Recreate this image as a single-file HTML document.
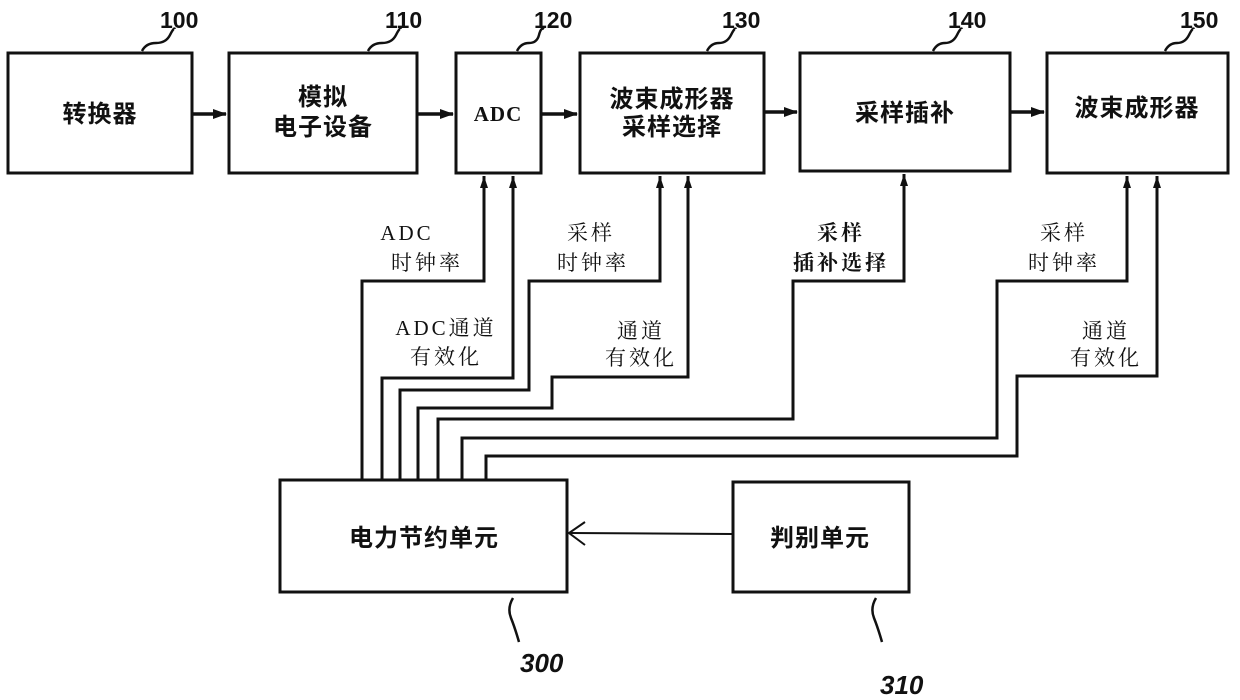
<!DOCTYPE html>
<html><head><meta charset="utf-8"><style>
html,body{margin:0;padding:0;background:#fff;}
svg{display:block;}
.bx{font-family:"Liberation Sans","Noto Sans CJK SC",sans-serif;font-weight:bold;font-size:24px;fill:#111;letter-spacing:1px;}
.lb{font-family:"Liberation Serif","Noto Serif CJK SC",serif;font-size:21px;fill:#111;letter-spacing:3px;}
.num{font-family:"Liberation Sans",sans-serif;font-weight:bold;font-size:23px;fill:#111;}
</style></head><body>
<svg width="1240" height="700" viewBox="0 0 1240 700" xmlns="http://www.w3.org/2000/svg">
<defs>
<marker id="a" markerWidth="14" markerHeight="10" refX="13" refY="5" orient="auto" markerUnits="userSpaceOnUse"><path d="M0,0 L14,5 L0,10 Z" fill="#111"/></marker>
</defs>
<g fill="none" stroke="#111" stroke-width="3">
<rect x="8" y="53" width="184" height="120"/>
<rect x="229" y="53" width="188" height="120"/>
<rect x="456" y="53" width="85" height="120"/>
<rect x="580" y="53" width="184" height="120"/>
<rect x="800" y="53" width="210" height="118"/>
<rect x="1047" y="53" width="181" height="120"/>
<rect x="280" y="480" width="287" height="112"/>
<rect x="733" y="482" width="176" height="110"/>
</g>
<g stroke="#111" stroke-width="3.5" fill="none">
<line x1="193" y1="114" x2="226" y2="114" marker-end="url(#a)"/>
<line x1="418" y1="114" x2="453" y2="114" marker-end="url(#a)"/>
<line x1="542" y1="114" x2="577" y2="114" marker-end="url(#a)"/>
<line x1="765" y1="112" x2="797" y2="112" marker-end="url(#a)"/>
<line x1="1011" y1="112" x2="1044" y2="112" marker-end="url(#a)"/>
</g>
<g stroke="#111" stroke-width="3" fill="none" stroke-linejoin="miter">
<polyline points="362,480 362,281 484,281 484,176"/>
<polyline points="382,480 382,378 513,378 513,176"/>
<polyline points="400,480 400,390 529,390 529,281 660,281 660,176"/>
<polyline points="418,480 418,408 552,408 552,377 688,377 688,176"/>
<polyline points="438,480 438,419 793,419 793,281 904,281 904,174"/>
<polyline points="462,480 462,438 997,438 997,281 1127,281 1127,176"/>
<polyline points="486,480 486,456 1017,456 1017,376 1157,376 1157,176"/>
</g>
<g fill="#111">
<path d="M484,176 l-4,12 h8z"/><path d="M513,176 l-4,12 h8z"/>
<path d="M660,176 l-4,12 h8z"/><path d="M688,176 l-4,12 h8z"/>
<path d="M904,174 l-4,12 h8z"/>
<path d="M1127,176 l-4,12 h8z"/><path d="M1157,176 l-4,12 h8z"/>
</g>
<line x1="732" y1="534" x2="570" y2="533" stroke="#111" stroke-width="2"/>
<polyline points="585,522 569,533 585,545" fill="none" stroke="#111" stroke-width="2"/>
<g fill="none" stroke="#111" stroke-width="2.5">
<path d="M142,51 q4,-8 14,-8 t14,-8 5,-6"/>
<path d="M368,51 q4,-8 14,-8 t14,-8 5,-6"/>
<path d="M517,51 q4,-8 12,-8 t10,-8 5,-6"/>
<path d="M707,51 q4,-8 12,-8 t12,-8 5,-6"/>
<path d="M933,51 q4,-8 12,-8 t12,-8 5,-6"/>
<path d="M1165,51 q4,-8 12,-8 t12,-8 5,-6"/>
<path d="M513,598 q-6,10 -2,20 t8,24"/>
<path d="M876,598 q-6,10 -2,20 t8,24"/>
</g>
<g class="num">
<text x="160" y="28">100</text>
<text x="385" y="28">110</text>
<text x="534" y="28">120</text>
<text x="722" y="28">130</text>
<text x="948" y="28">140</text>
<text x="1180" y="28">150</text>
<text x="520" y="672" font-style="italic" font-size="26">300</text>
<text x="880" y="694" font-style="italic" font-size="26">310</text>
</g>
<g class="bx" text-anchor="middle">
<text x="100" y="122">转换器</text>
<text x="323" y="105">模拟</text>
<text x="323" y="135">电子设备</text>
<text x="498" y="121" font-family="Liberation Serif,serif" font-size="21">ADC</text>
<text x="672" y="107">波束成形器</text>
<text x="672" y="135">采样选择</text>
<text x="905" y="121">采样插补</text>
<text x="1137" y="116">波束成形器</text>
<text x="424" y="546">电力节约单元</text>
<text x="820" y="546">判别单元</text>
</g>
<g class="lb" text-anchor="middle">
<text x="407" y="240">ADC</text>
<text x="427" y="270">时钟率</text>
<text x="446" y="335">ADC通道</text>
<text x="446" y="364">有效化</text>
<text x="591" y="240">采样</text>
<text x="593" y="270">时钟率</text>
<text x="641" y="338">通道</text>
<text x="641" y="365">有效化</text>
<text x="841" y="240" font-weight="bold">采样</text>
<text x="841" y="270" font-weight="bold">插补选择</text>
<text x="1064" y="240">采样</text>
<text x="1064" y="270">时钟率</text>
<text x="1106" y="338">通道</text>
<text x="1106" y="365">有效化</text>
</g>
</svg>
</body></html>
